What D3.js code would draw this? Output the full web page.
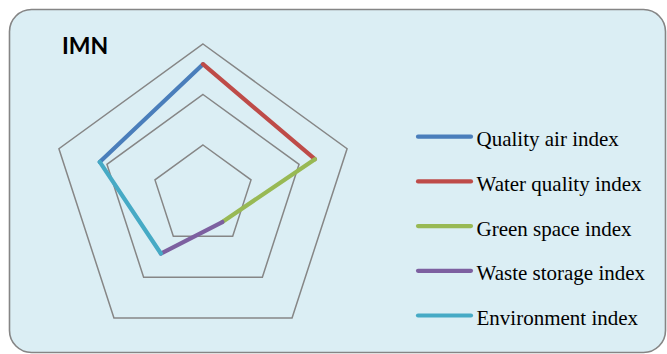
<!DOCTYPE html>
<html>
<head>
<meta charset="utf-8">
<script src="https://cdn.jsdelivr.net/npm/d3@7"></script>
<style>
  html, body { margin: 0; padding: 0; background: #ffffff; }
  svg { display: block; }
</style>
</head>
<body>
<svg id="chart" width="667" height="354"></svg>
<script>
// Axis values around the radar (clockwise from the top)
const axisValues = [2.6, 2.33, 0.65, 1.42, 2.15];
// Grid levels
const gridLevels = [1, 2, 3];
// Series names and the pair of axes each one connects
const seriesNames = ["Quality air index", "Water quality index", "Green space index", "Waste storage index", "Environment index"];
const seriesFrom = [4, 0, 1, 2, 3];
const seriesTo = [0, 1, 2, 3, 4];
const seriesColors = ["#4a7ebb", "#be4b48", "#98b954", "#7d60a0", "#46aac5"];
const chartTitle = "IMN";

const svg = d3.select("#chart");
const W = 667, H = 354;

// Background panel
svg.append("rect")
  .attr("x", 9.5).attr("y", 9.5)
  .attr("width", 656).attr("height", 343)
  .attr("rx", 22).attr("ry", 22)
  .attr("fill", "#dbeef4")
  .attr("stroke", "#858585")
  .attr("stroke-width", 1.6);

// Title
svg.append("text")
  .attr("x", 62).attr("y", 54)
  .attr("font-family", "Lato, 'Open Sans', sans-serif")
  .attr("font-weight", "bold")
  .attr("font-size", 23)
  .attr("fill", "#000")
  .text(chartTitle);

// Radar geometry
const cx = 203, cy = 195.5;
const r = d3.scaleLinear().domain([0, 3]).range([0, 151.5]);
const nAxes = axisValues.length;
const angle = d3.scaleLinear().domain([0, nAxes]).range([0, 2 * Math.PI]);
const pt = (i, v) => [cx + r(v) * Math.sin(angle(i)), cy - r(v) * Math.cos(angle(i))];

const g = svg.append("g");

// Pentagon grid
const lineClosed = d3.line().curve(d3.curveLinearClosed);
g.selectAll("path.grid")
  .data(gridLevels)
  .join("path")
  .attr("class", "grid")
  .attr("d", lv => lineClosed(d3.range(nAxes).map(i => pt(i, lv))))
  .attr("fill", "none")
  .attr("stroke", "#868686")
  .attr("stroke-width", 1.5);

// Series segments
const line = d3.line();
g.selectAll("path.series")
  .data(seriesNames.map((name, k) => ({ name, k })))
  .join("path")
  .attr("class", "series")
  .attr("d", d => line([
    pt(seriesFrom[d.k], axisValues[seriesFrom[d.k]]),
    pt(seriesTo[d.k], axisValues[seriesTo[d.k]])
  ]))
  .attr("fill", "none")
  .attr("stroke", d => seriesColors[d.k])
  .attr("stroke-width", 4.2)
  .attr("stroke-linecap", "round");

// Legend
const legY = d3.scalePoint().domain(seriesNames).range([136.7, 315.5]);
const leg = svg.append("g");
const items = leg.selectAll("g")
  .data(seriesNames)
  .join("g")
  .attr("transform", d => `translate(0,${legY(d)})`);
items.append("line")
  .attr("x1", 418).attr("x2", 471)
  .attr("y1", 0).attr("y2", 0)
  .attr("stroke", (d, i) => seriesColors[i])
  .attr("stroke-width", 4.2)
  .attr("stroke-linecap", "round");
items.append("text")
  .attr("x", 476.5).attr("y", 9.5)
  .attr("font-family", "'Liberation Serif', 'Times New Roman', serif")
  .attr("font-size", 21)
  .attr("fill", "#000")
  .text(d => d);
</script>
</body>
</html>
